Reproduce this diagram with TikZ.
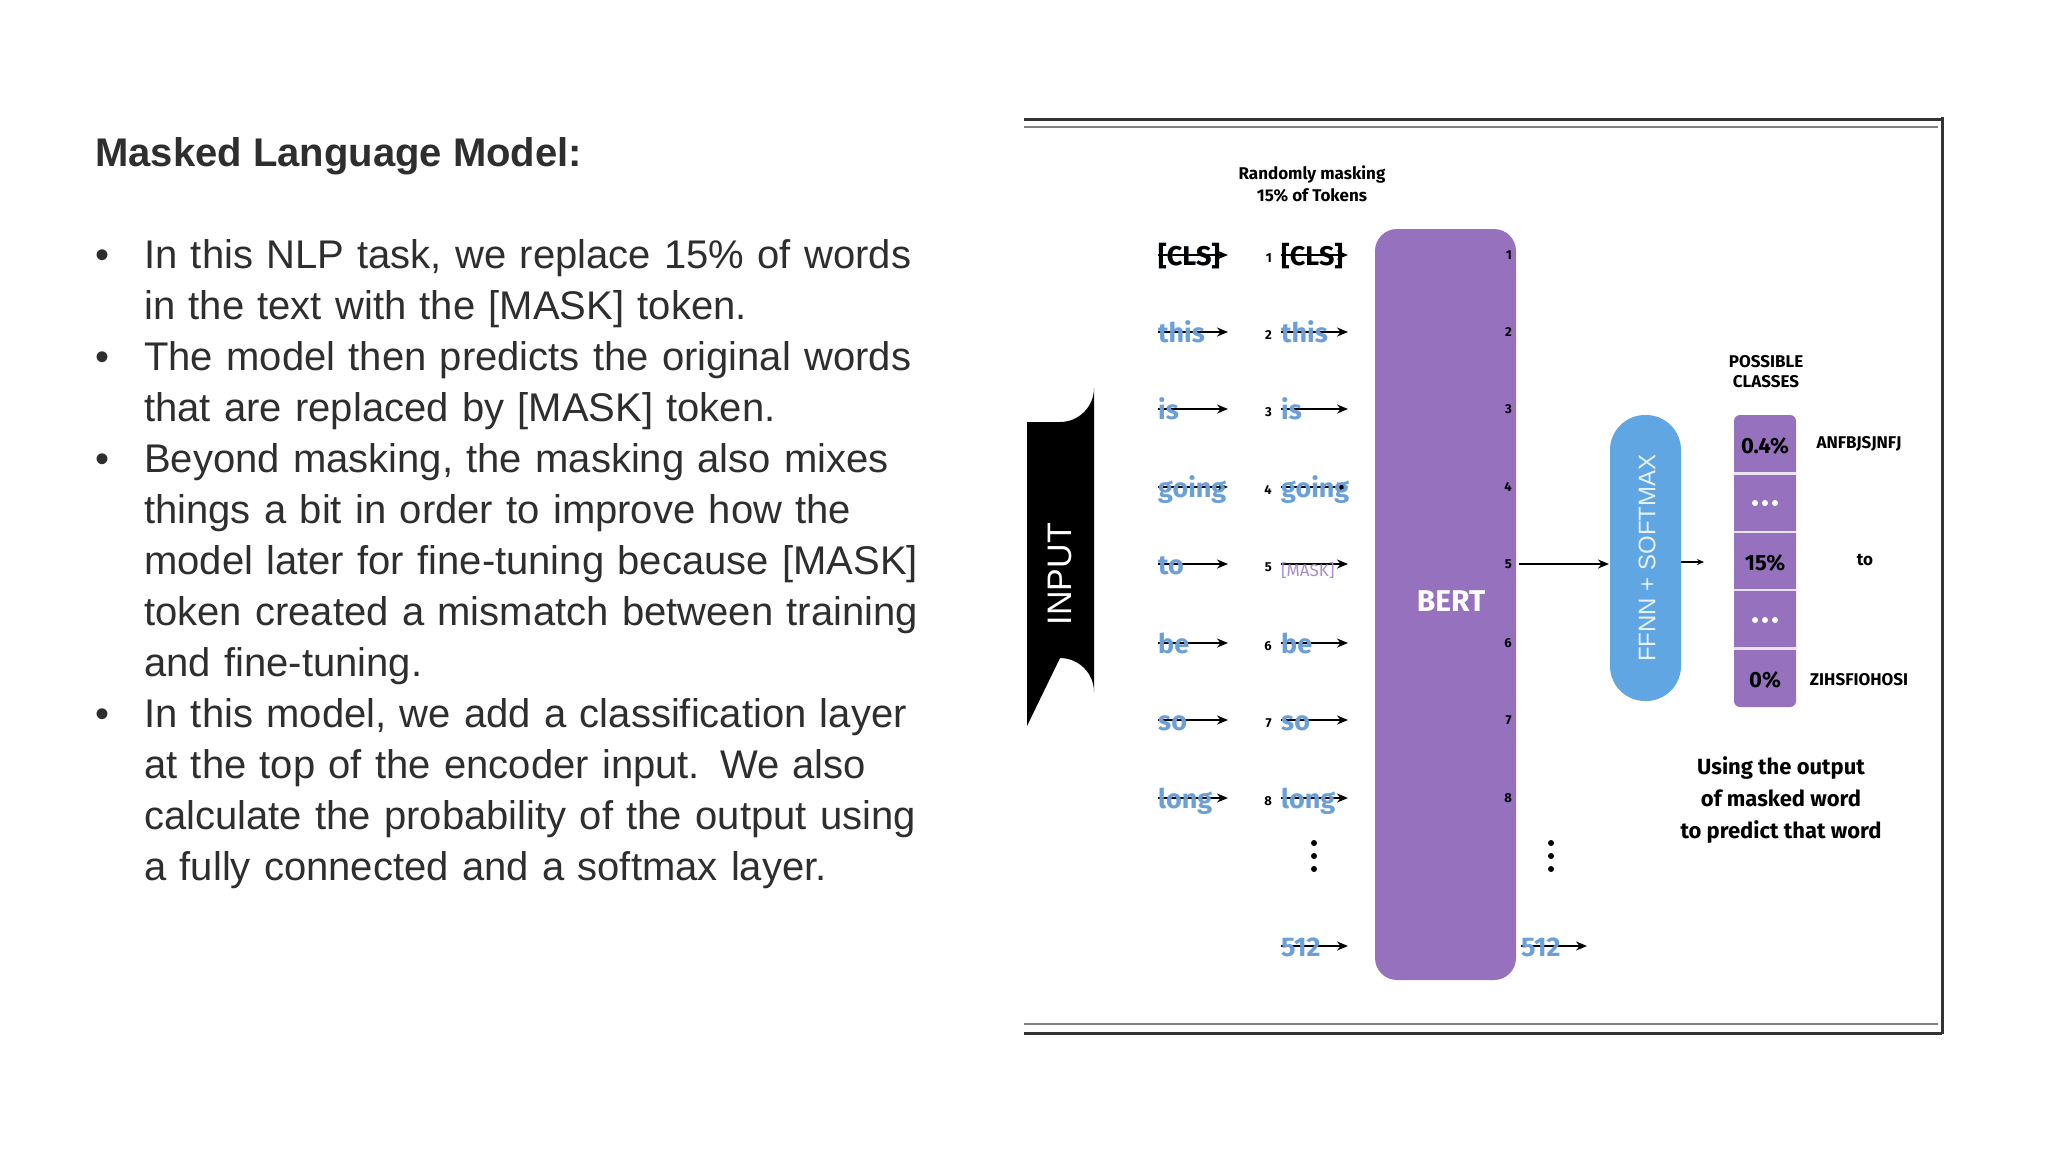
\documentclass[tikz,border=0pt]{standalone}
\usepackage{fontspec}
\setmainfont{Liberation Sans}
\newfontfamily\dg{Fira Sans}
\usetikzlibrary{arrows.meta,shapes.geometric}
\definecolor{bertp}{HTML}{9571BE}
\definecolor{ffblue}{HTML}{5FA6E2}
\definecolor{wblue}{HTML}{6A9FD8}
\definecolor{txt}{HTML}{2E2E2E}
\begin{document}
\begin{tikzpicture}[x=1pt,y=-1pt,
  arr/.style={-{Stealth[length=11pt,width=9pt]},line width=2pt},
  word/.style={anchor=base west,font=\dg\fontsize{27}{27}\selectfont\bfseries,text=wblue,inner sep=0},
  num/.style={font=\dg\fontsize{13}{13}\selectfont\bfseries,inner sep=0},
  lab/.style={font=\dg\fontsize{17}{20}\selectfont\bfseries,align=center,inner sep=0},
  bul/.style={anchor=base west,font=\fontsize{40}{51}\selectfont,text=txt,align=left,inner sep=0,text width=880pt}]
\useasboundingbox (0,0) rectangle (2048,1152);
\fill[white] (0,0) rectangle (2048,1152);
% left text
\node[anchor=base west,font=\fontsize{40}{48}\selectfont\bfseries,text=txt,inner sep=0] (title) at (95,166) {Masked Language Model:};
\foreach \y/\t [count=\i] in {268/{In this NLP task, we replace 15\% of words\\in the text with the [MASK] token.},
  370/{The model then predicts the original words\\that are replaced by [MASK] token.},
  472/{Beyond masking, the masking also mixes\\things a bit in order to improve how the\\model later for fine-tuning because [MASK]\\token created a mismatch between training\\and fine-tuning.},
  727/{In this model, we add a classification layer\\at the top of the encoder input. We also\\calculate the probability of the output using\\a fully connected and a softmax layer.}}
{
  \node[bul] (b\i) at (144,\y) {\t};
  \node[anchor=base west,font=\fontsize{40}{51}\selectfont,text=txt,inner sep=0] (d\i) at (95,\y) {•};
}
% frame
\draw[line width=3pt,black!80] (1024,119) -- (1942,119);
\draw[line width=1.5pt,black!50] (1024,127) -- (1938,127);
\draw[line width=3pt,black!80] (1942,117) -- (1942,1034);
\draw[line width=1.5pt,black!50] (1024,1024) -- (1938,1024);
\draw[line width=3pt,black!80] (1024,1033) -- (1942,1033);
% INPUT
\fill[black] (1027,422) -- (1060,422) arc[start angle=90,end angle=0,radius=34] -- (1094,692) arc[start angle=0,end angle=-90,radius=34] -- (1027,726) -- cycle;
\node[rotate=90,text=white,font=\fontsize{34}{34}\selectfont] (input) at (1060,574) {INPUT};
% header
\node[lab,font=\dg\fontsize{17}{22}\selectfont\bfseries] (rm) at (1312,184) {Randomly masking\\15\% of Tokens};
% BERT
\node[fill=bertp,rounded corners=22pt,minimum width=141pt,minimum height=751pt,inner sep=0] (bert) at (1445.5,604.5) {};
\node[text=white,font=\dg\fontsize{30}{30}\selectfont\bfseries] (berttxt) at (1451,601) {BERT};
% rows
\foreach \y/\w/\m [count=\i] in {255/{[CLS]}/{[CLS]},332/this/this,409/is/is,487/going/going,564/to/{[MASK]},643/be/be,720/so/so,798/long/long}{
  \coordinate (a\i) at (1158,\y); \coordinate (ae\i) at (1228,\y);
  \coordinate (c\i) at (1281,\y); \coordinate (ce\i) at (1348,\y);
  \coordinate (o\i) at (1519,\y); \coordinate (oe\i) at (1587,\y);
  \draw[arr] (a\i) -- (ae\i);
  \draw[arr] (c\i) -- (ce\i);
  \node[num,anchor=east] (n\i) at (1272,\y+3) {\i};
  \node[num,anchor=east] (m\i) at (1512,\y) {\i};
}
\foreach \i/\w in {1/{[CLS]},2/this,3/is,4/going,5/to,6/be,7/so,8/long}{
  \node[word] (w\i) at ([yshift=-10]a\i) {\w};
}
\node[word,text=black] at ([yshift=-10]a1) {[CLS]};
\foreach \i/\w in {2/this,3/is,4/going,6/be,7/so,8/long}{
  \node[word] (x\i) at ([yshift=-10]c\i) {\w};
}
\node[word,text=black] (x1) at ([yshift=-10]c1) {[CLS]};
\node[word,text=bertp!80,font=\dg\fontsize{17}{17}\selectfont] (x5) at ([yshift=-12]c5) {[MASK]};
\draw[arr] (1519,564) -- (1609,564);
% dots and 512
\foreach \x [count=\k] in {1314,1551}{
  \fill (\x,843) circle (3pt) (\x,856) circle (3pt) (\x,869) circle (3pt);
}
\coordinate (c9) at (1281,946); \coordinate (o9) at (1521,946);
\draw[arr] (c9) -- (1348,946);
\draw[arr] (o9) -- (1587,946);
\node[word] (x9) at ([yshift=-10]c9) {512};
\node[word] (y9) at ([yshift=-10]o9) {512};
% FFNN
\node[fill=ffblue,rounded corners=35pt,minimum width=71pt,minimum height=286pt,inner sep=0] (ff) at (1645.5,558) {};
\node[rotate=90,text=white!85!ffblue,font=\fontsize{24}{24}\selectfont] (fft) at (1647,558) {FFNN + SOFTMAX};
\draw[-{Stealth[length=7pt,width=6pt]},line width=1.3pt] (ff.east|-0,562) -- (1704,562);
% classes
\node[lab] (pc) at (1766,372) {POSSIBLE\\CLASSES};
\fill[bertp,rounded corners=6pt] (1734,415) rectangle (1796,707);
\foreach \k in {1,2,3,4}{ \draw[white!80!bertp,line width=2.5pt] (1734,415+58.4*\k) -- (1796,415+58.4*\k); }
\node[font=\dg\fontsize{22}{22}\selectfont\bfseries] (p1) at (1765,446) {0.4\%};
\node[font=\dg\fontsize{22}{22}\selectfont\bfseries] (p3) at (1765,563) {15\%};
\node[font=\dg\fontsize{22}{22}\selectfont\bfseries] (p5) at (1765,680) {0\%};
\foreach \yy in {503,620}{ \fill[white] (1755,\yy) circle (3pt) (1765,\yy) circle (3pt) (1775,\yy) circle (3pt); }
\node[lab] (k1) at (1859,444) {ANFBJSJNFJ};
\node[lab] (k3) at (1865,560) {to};
\node[lab] (k5) at (1859,680) {ZIHSFIOHOSI};
\node[lab,font=\dg\fontsize{22}{32}\selectfont\bfseries] (ut) at (1781,800) {Using the output\\of masked word\\to predict that word};
\end{tikzpicture}
\end{document}
